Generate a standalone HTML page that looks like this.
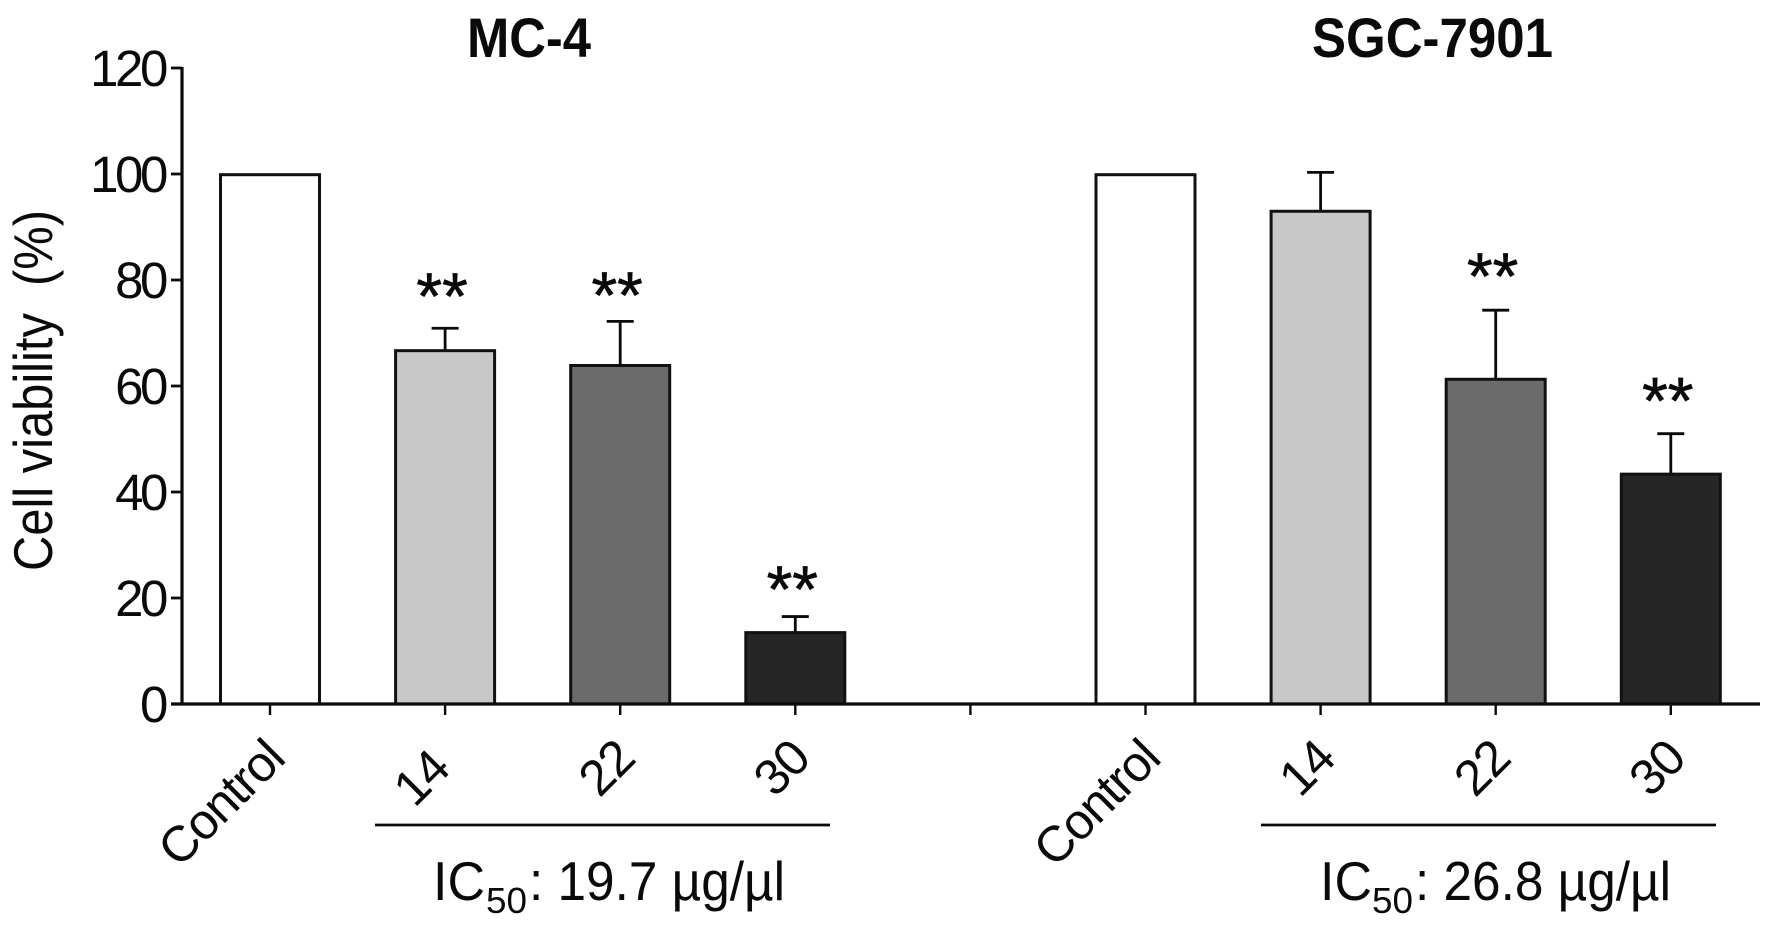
<!DOCTYPE html>
<html lang="en">
<head>
<meta charset="utf-8">
<title>Cell viability chart</title>
<style>
html,body{margin:0;padding:0;background:#fff;width:1772px;height:929px;overflow:hidden}
svg{display:block}
text{font-family:"Liberation Sans",sans-serif;fill:#0a0a0a}
</style>
</head>
<body>
<svg id="chart" xmlns="http://www.w3.org/2000/svg" width="1772" height="929" viewBox="0 0 1772 929">
  <rect x="0" y="0" width="1772" height="929" fill="#fff"/>
  <g id="marks"></g>
  <text transform="translate(52 571) rotate(-90)" font-size="55" textLength="361" lengthAdjust="spacingAndGlyphs">Cell viability&#160;&#160;(%)</text>
  <text x="467" y="57" font-size="56" font-weight="700" textLength="124" lengthAdjust="spacingAndGlyphs">MC-4</text>
  <text x="1312" y="57" font-size="56" font-weight="700" textLength="241" lengthAdjust="spacingAndGlyphs">SGC-7901</text>

  <line x1="375" x2="830" y1="825" y2="825" stroke="#0a0a0a" stroke-width="2.8"/>
  <line x1="1261" x2="1716" y1="825" y2="825" stroke="#0a0a0a" stroke-width="2.8"/>

  <g>
    <text x="433" y="900" font-size="55" textLength="52" lengthAdjust="spacingAndGlyphs">IC</text>
    <text x="486" y="913" font-size="36" textLength="41" lengthAdjust="spacingAndGlyphs">50</text>
    <text x="529" y="900" font-size="55" textLength="256" lengthAdjust="spacingAndGlyphs">: 19.7 µg/µl</text>
  </g>
  <g>
    <text x="1320" y="900" font-size="55" textLength="52" lengthAdjust="spacingAndGlyphs">IC</text>
    <text x="1372" y="913" font-size="36" textLength="41" lengthAdjust="spacingAndGlyphs">50</text>
    <text x="1415" y="900" font-size="55" textLength="256" lengthAdjust="spacingAndGlyphs">: 26.8 µg/µl</text>
  </g>
</svg>
<script>
// Chart data
const categories = ["Control", "14", "22", "30"];
const yTicks = [0, 20, 40, 60, 80, 100, 120];
const mc4Values = [100, 66.8, 64, 13.6];
const mc4Errors = [0, 4.1, 8.2, 2.9];
const mc4Stars = [null, 77.2, 77.4, 21.9];
const sgcValues = [100, 93.1, 61.4, 43.5];
const sgcErrors = [0, 7.2, 12.9, 7.5];
const sgcStars = [null, null, 80.9, 57.5];
const barFills = ["#ffffff", "#c8c8c8", "#6b6b6b", "#262626"];

const NS = "http://www.w3.org/2000/svg";
const marks = document.getElementById("marks");
const INK = "#0a0a0a";

function yScale(v) { return 704 - 5.3 * v; }
function xScale(slot) { return 270 + 175.1 * slot; }

function make(tag, attrs) {
  const el = document.createElementNS(NS, tag);
  for (const k in attrs) el.setAttribute(k, attrs[k]);
  marks.appendChild(el);
  return el;
}

function drawPanel(panel, startSlot, values, errors, stars) {
  values.forEach(function (value, i) {
    const cx = xScale(startSlot + i);
    const top = yScale(value);

    if (errors[i] > 0) {
      const capY = yScale(value + errors[i]);
      const stem = make("line", { x1: cx, x2: cx, y1: capY, y2: top, stroke: INK, "stroke-width": 2.8 });
      
      
      const cap = make("line", { x1: cx - 13.5, x2: cx + 13.5, y1: capY, y2: capY, stroke: INK, "stroke-width": 2.8 });
      
      
    }

    const bar = make("rect", { x: cx - 49.5, y: top + 0.7, width: 99, height: yScale(0) - top - 0.7, fill: barFills[i], stroke: "#111", "stroke-width": 3 });
    
    

    if (stars[i] !== null) {
      const star = make("text", { x: cx - 3, y: yScale(stars[i]) + 24, "font-size": 66, "text-anchor": "middle", stroke: "#0a0a0a", "stroke-width": 0.7 });
      star.textContent = "**";
      
      
    }

    const tick = make("line", { x1: cx, x2: cx, y1: 704, y2: 715, stroke: INK, "stroke-width": 2.4 });
    
    

    const nudge = (panel === "mc-4" && i === 1) ? 10 : 0;
    const ex = cx + 17 - nudge;
    const ey = 761 + nudge;
    const label = make("text", { x: ex, y: ey, "font-size": 50, "text-anchor": "end", "letter-spacing": -1.2, transform: "rotate(-45 " + ex + " " + ey + ")" });
    label.textContent = categories[i];
    
    
  });
}

drawPanel("mc-4", 0, mc4Values, mc4Errors, mc4Stars);
drawPanel("sgc-7901", 5, sgcValues, sgcErrors, sgcStars);

// Gap tick between the two panels
const gapTick = make("line", { x1: xScale(4), x2: xScale(4), y1: 704, y2: 715, stroke: INK, "stroke-width": 2.4 });



// Y axis
const yAxis = make("line", { x1: 182, x2: 182, y1: yScale(120) - 1, y2: yScale(0), stroke: INK, "stroke-width": 3.2 });



yTicks.forEach(function (t) {
  const y = yScale(t);
  const tk = make("line", { x1: 171, x2: 182, y1: y, y2: y, stroke: INK, "stroke-width": 2.8 });
  
  
  const lb = make("text", { x: 165, y: y + 18, "font-size": 51, "text-anchor": "end", "letter-spacing": -3.4 });
  lb.textContent = String(t);
  
  
});

// X axis
const xAxis = make("line", { x1: 171, x2: 1760, y1: yScale(0), y2: yScale(0), stroke: INK, "stroke-width": 3.2 });


</script>
</body>
</html>
